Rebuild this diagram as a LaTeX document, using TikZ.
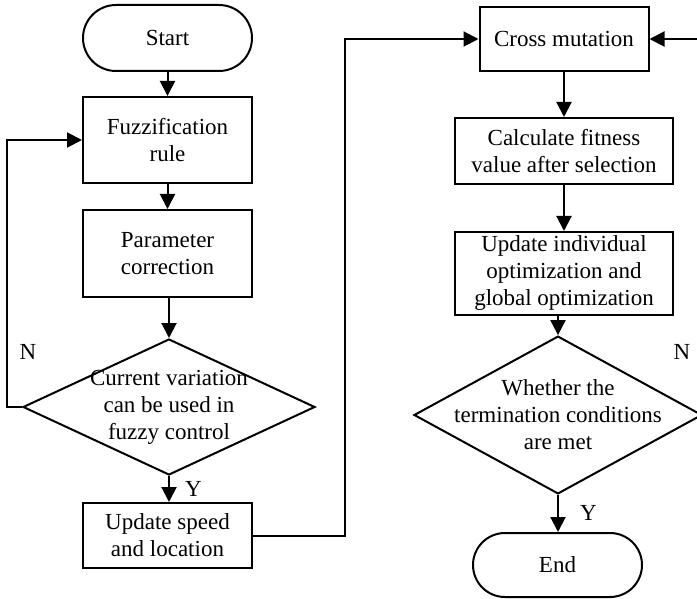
\documentclass[tikz,border=0pt]{standalone}
\usepackage{fontspec}
\setmainfont{Liberation Serif}
\usetikzlibrary{shapes.geometric,shapes.misc,arrows.meta}
\begin{document}
\begin{tikzpicture}[x=1pt, y=-1pt, line width=2pt, >={Triangle[length=15pt, width=15pt]},
    every node/.style={font=\fontsize{23}{27}\selectfont, align=center, inner sep=0pt},
    terminal/.style={draw, rounded rectangle, minimum width=169pt, minimum height=66pt},
    process/.style={draw, minimum width=169pt},
    decision/.style={draw, diamond, inner sep=-30pt, minimum width=292pt, minimum height=136pt}]
    \useasboundingbox (0,0) rectangle (697,599);
    \node (start) [terminal] at (167.5,38) {Start};
    \node (fuzzy) [process, minimum height=86pt] at (167.5,140) {Fuzzification\\rule};
    \node (param) [process, minimum height=87pt] at (167.5,253.5) {Parameter\\correction};
    \node (judge) [decision] at (169,407) {Current variation\\can be used in\\fuzzy control};
    \node (update) [process, minimum height=65pt] at (167.5,535.5) {Update speed\\and location};
    \node (cross) [process, minimum height=64pt] at (564,39) {Cross mutation};
    \node (fitness) [process, minimum width=218pt, minimum height=66pt] at (564,151) {Calculate fitness\\value after selection};
    \node (optim) [process, minimum width=218pt, minimum height=83pt] at (564,273.5) {Update individual\\optimization and\\global optimization};
    \node (check) [decision, minimum width=288pt] at (558,415) {Whether the\\termination conditions\\are met};
    \node (finish) [terminal, minimum height=64pt] at (557.5,565) {End};
    \node (nl) at (28,352) {N};
    \node (nr) at (682,352) {N};
    \coordinate (loopL) at (7,140);
    \coordinate (jumpA) at (345,39);
    \coordinate (jumpB) at (705,39);
    \draw[->] (start) -- (fuzzy);
    \draw[->] (fuzzy) -- (param);
    \draw[->] (param.south -| judge.north) -- (judge.north);
    \draw[->] (judge.south) -- node[right=15pt] {Y} (judge.south |- update.north);
    \draw[->] (judge.west) -| (loopL) -- (fuzzy.west);
    \draw[->] (update.east) -| (jumpA) -- (cross.west);
    \draw[->] (cross) -- (fitness);
    \draw[->] (fitness) -- (optim);
    \draw[->] (optim.south -| check.north) -- (check.north);
    \draw[->] (check.south) -- node[right=21pt] {Y} (check.south |- finish.north);
    \draw[->] (check.east) -| (jumpB) -- (cross.east);
\end{tikzpicture}
\end{document}
